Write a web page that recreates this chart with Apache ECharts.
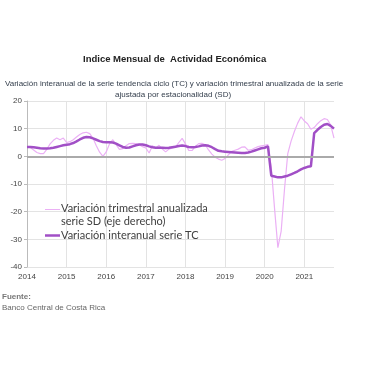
<!DOCTYPE html>
<html><head><meta charset="utf-8">
<script src="https://cdn.jsdelivr.net/npm/echarts@6/dist/echarts.min.js"></script>
<style>html,body{margin:0;padding:0;background:#fff}#c{width:380px;height:380px}</style>
</head><body><div id="c"></div>
<script>
// Years covered (monthly data Jan 2014 - Oct 2021)
var years = [2014, 2015, 2016, 2017, 2018, 2019, 2020, 2021];
var lastYearMonths = 10;
var yTicks = [-40, -30, -20, -10, 0, 10, 20];

// Variación interanual serie TC
var tc = [
 3.4, 3.4, 3.3, 3.1, 2.9, 2.8, 2.8, 2.9, 3.1, 3.4, 3.7, 4.0,
 4.2, 4.4, 4.8, 5.4, 6.1, 6.7, 7.0, 6.9, 6.5, 6.0, 5.5, 5.2,
 5.1, 5.1, 5.0, 4.6, 4.0, 3.4, 3.1, 3.2, 3.6, 4.0, 4.3, 4.3,
 4.0, 3.6, 3.3, 3.1, 3.1, 3.1, 3.0, 3.1, 3.3, 3.5, 3.7, 3.9,
 3.7, 3.4, 3.3, 3.4, 3.6, 3.9, 4.0, 3.8, 3.3, 2.6, 2.0, 1.8,
 1.7, 1.6, 1.5, 1.4, 1.3, 1.2, 1.2, 1.4, 1.7, 2.1, 2.5, 2.9,
 3.1, 3.6, -7.0, -7.3, -7.6, -7.6, -7.3, -7.0, -6.5, -6.0, -5.4, -4.7,
 -4.2, -3.8, -3.6, 8.4, 9.6, 10.6, 11.4, 11.7, 11.0, 10.0
];
// Variación trimestral anualizada serie SD
var sd = [
 3.6, 3.2, 2.3, 1.4, 1.0, 1.0, 2.5, 4.5, 5.8, 6.6, 6.0, 6.6,
 5.0, 5.3, 6.0, 7.0, 7.9, 8.5, 8.7, 8.2, 6.5, 3.8, 1.5, 0.0,
 1.6, 4.5, 6.0, 4.2, 2.5, 2.8, 3.8, 4.6, 4.7, 4.6, 4.2, 3.5,
 3.0, 1.2, 3.8, 2.9, 4.0, 2.6, 1.6, 2.6, 3.0, 3.4, 5.0, 6.5,
 4.5, 2.1, 2.1, 3.6, 4.6, 4.7, 4.2, 2.3, 0.8, -0.3, -1.0, -1.4,
 -0.8, 0.5, 1.8, 2.2, 2.6, 3.3, 3.4, 2.2, 2.4, 3.0, 3.5, 3.8,
 4.0, 4.2, -4.0, -19.0, -33.0, -27.0, -12.0, 1.0, 5.5, 9.0, 12.0, 14.3,
 12.8, 11.8, 9.8, 10.4, 11.8, 12.9, 13.6, 13.3, 11.3, 6.6
];
var nameSD = 'Variación trimestral anualizada serie SD (eje derecho)';
var nameTC = 'Variación interanual serie TC';

var months = [];
years.forEach(function (y, i) {
  var n = (i === years.length - 1) ? lastYearMonths : 12;
  for (var m = 1; m <= n; m++) months.push(y + '-' + (m < 10 ? '0' + m : m));
});
function isJan(idx) { return idx % 12 === 0; }

var chart = echarts.init(document.getElementById('c'), null, {renderer: 'canvas'});
var FONT = 'Liberation Sans, Arial, sans-serif';
chart.setOption({
  animation: false,
  backgroundColor: '#fff',
  grid: {left: 27, right: 46, top: 101, bottom: 113, containLabel: false, outerBoundsMode: 'none'},
  title: [
    {text: 'Indice Mensual de  Actividad Económica', left: 83, top: 54, textStyle: {fontFamily: FONT, fontSize: 9.5, fontWeight: 'bold', color: '#222'}, padding: 0},
    {text: 'Variación interanual de la serie tendencia ciclo (TC) y variación trimestral anualizada de la serie', left: 5, top: 80, textStyle: {fontFamily: FONT, fontSize: 8, fontWeight: 'normal', color: '#36404e'}, padding: 0},
    {text: 'ajustada por estacionalidad (SD)', left: 115, top: 91, textStyle: {fontFamily: FONT, fontSize: 8, fontWeight: 'normal', color: '#36404e'}, padding: 0},
    {text: 'Fuente:', left: 2, top: 293, textStyle: {fontFamily: FONT, fontSize: 8, fontWeight: 'bold', color: '#777'}, padding: 0},
    {text: 'Banco Central de Costa Rica', left: 2, top: 304, textStyle: {fontFamily: FONT, fontSize: 8, fontWeight: 'normal', color: '#666'}, padding: 0}
  ],
  legend: [
    {
      data: [{name: nameSD, icon: 'path://M0,6H20V7.2H0Z M0,0h0.01v0.01h-0.01Z M0,28h0.01v0.01h-0.01Z'}],
      left: 45, top: 202, orient: 'vertical', itemWidth: 15, itemHeight: 28, padding: 0,
      formatter: function () { return 'Variación trimestral anualizada\nserie SD (eje derecho)'; },
      textStyle: {fontFamily: 'Lato, sans-serif', fontSize: 11, color: '#404040', lineHeight: 13, padding: [0, 0, 0, -4]}
    },
    {
      data: [{name: nameTC, icon: 'rect'}],
      left: 45, top: 229, orient: 'vertical', itemWidth: 15, itemHeight: 2.5, padding: 0,
      textStyle: {fontFamily: 'Lato, sans-serif', fontSize: 11, color: '#404040', lineHeight: 13, padding: [0, 0, 0, -4]}
    }
  ],
  xAxis: {
    type: 'category', data: months, boundaryGap: false,
    axisLine: {show: false}, axisTick: {show: false},
    axisLabel: {interval: function (i) { return isJan(i); }, formatter: function (v) { return v.slice(0, 4); }, fontFamily: FONT, fontSize: 8, color: '#444', margin: 6},
    splitLine: {show: true, interval: function (i) { return isJan(i); }, lineStyle: {color: '#e3e3e3', width: 1}}
  },
  yAxis: {
    type: 'value', min: yTicks[0], max: yTicks[yTicks.length - 1], interval: 10,
    name: 'Porcentajes', nameLocation: 'middle', nameGap: 13, nameRotate: 90,
    nameTextStyle: {fontFamily: 'Lato, sans-serif', fontSize: 9, color: '#555'},
    axisLine: {show: true, lineStyle: {color: '#bbb'}},
    axisTick: {show: true, length: 3, lineStyle: {color: '#bbb'}},
    axisLabel: {fontFamily: FONT, fontSize: 8, color: '#444', margin: 5},
    splitLine: {show: true, lineStyle: {color: '#e3e3e3', width: 1}}
  },
  series: [
    {
      type: 'line', name: 'zero', data: [], z: 1, silent: true,
      markLine: {silent: true, symbol: 'none', label: {show: false}, lineStyle: {color: '#aaa', width: 2, type: 'solid'}, data: [{yAxis: 0}], animation: false}
    },
    {type: 'line', name: nameSD, data: sd, showSymbol: false, symbol: 'none', z: 3, lineStyle: {color: '#ebb0f5', width: 1.2}, itemStyle: {color: '#ebb0f5'}},
    {type: 'line', name: nameTC, data: tc, showSymbol: false, symbol: 'none', z: 4, lineStyle: {color: '#a14fc6', width: 2.5}, itemStyle: {color: '#a14fc6'}}
  ]
});
</script></body></html>
